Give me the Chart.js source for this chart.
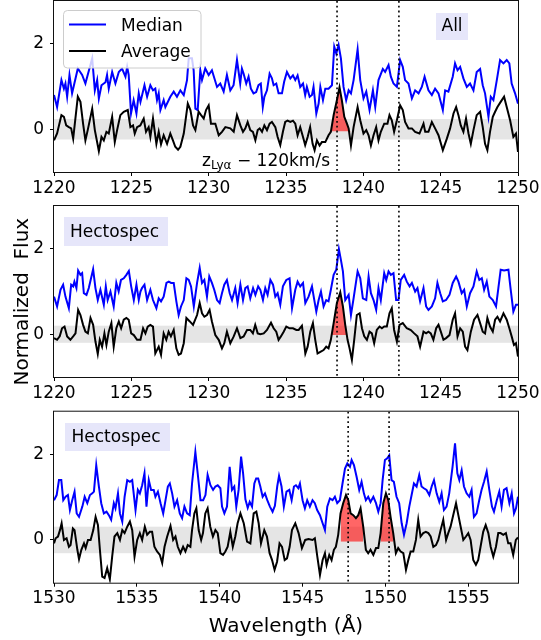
<!DOCTYPE html>
<html><head><meta charset="utf-8">
<script src="https://cdn.jsdelivr.net/npm/chart.js@4.4.1/dist/chart.umd.min.js"></script>
<style>
html,body{margin:0;padding:0;background:#fff;}
body{width:541px;height:640px;position:relative;overflow:hidden;}
canvas{position:absolute;left:0;}
</style>
</head><body>
<canvas id="c1" width="541" height="205" style="top:0px;width:541px;height:205px"></canvas>
<canvas id="c2" width="541" height="210" style="top:200px;width:541px;height:210px"></canvas>
<canvas id="c3" width="541" height="235" style="top:405px;width:541px;height:235px"></canvas>
<script>
// ---------- tick labels ----------
const yTicks = [0, 2];
const xTicksLya = [1220, 1225, 1230, 1235, 1240, 1245, 1250];
const xTicksCIV = [1530, 1535, 1540, 1545, 1550, 1555];

// ---------- line markers (dotted) ----------
const vLinesLya = [1238.3, 1242.3];
const vLinesCIV = [1547.75, 1550.22];

// ---------- emission regions shaded red ----------
const fillLyaAll = [[1237.75, 1239.2]];
const fillLyaHecto = [[1237.9, 1239.11]];
const fillCIV = [[1547.29, 1548.66], [1549.71, 1550.47]];

// ---------- noise bands (+/-) ----------
const bandAll = 0.24, bandHecto = 0.2, bandCIV = 0.31;

// ---------- Panel 1 (All): [wavelength, flux] ----------
const median1 = [[1220.0,.80],[1220.2,.52],[1220.48,1.15],[1220.64,.95],[1220.74,1.07],[1220.85,.76],[1221.0,1.27],[1221.17,.84],[1221.54,1.42],[1221.82,1.27],[1222.03,1.07],[1222.47,1.66],[1222.64,.91],[1222.79,1.15],[1222.9,.72],[1223.07,1.03],[1223.33,1.10],[1223.43,1.27],[1223.54,.95],[1223.76,1.34],[1223.97,1.07],[1224.19,1.34],[1224.4,1.42],[1224.62,1.23],[1224.73,1.46],[1224.83,1.27],[1224.98,.37],[1225.15,.68],[1225.33,.37],[1225.48,.84],[1225.59,.64],[1225.85,1.03],[1226.02,.76],[1226.23,1.03],[1226.4,.91],[1226.55,.95],[1226.66,.68],[1226.77,.84],[1226.88,.45],[1227.09,.68],[1227.2,.52],[1227.52,.76],[1227.74,.88],[1227.95,.76],[1228.17,.91],[1228.39,.80],[1228.6,1.15],[1228.71,1.66],[1228.92,1.66],[1229.03,1.38],[1229.14,.48],[1229.29,.45],[1229.46,1.38],[1229.57,1.15],[1229.78,1.42],[1230.0,1.27],[1230.21,1.38],[1230.54,.99],[1230.75,1.07],[1230.97,.88],[1231.18,1.27],[1231.4,.91],[1231.61,1.03],[1231.83,1.62],[1232.04,1.07],[1232.15,1.42],[1232.26,1.30],[1232.43,1.07],[1232.58,1.23],[1232.73,.95],[1232.9,.84],[1233.07,.87],[1233.22,1.03],[1233.37,1.07],[1233.5,.52],[1233.6,.76],[1233.77,.91],[1233.94,1.30],[1234.09,1.19],[1234.2,1.03],[1234.37,1.07],[1234.52,.84],[1234.74,.84],[1234.88,1.11],[1235.06,1.34],[1235.28,1.19],[1235.45,1.26],[1235.6,1.15],[1235.75,1.26],[1235.92,.99],[1236.1,1.07],[1236.24,.80],[1236.35,.99],[1236.53,.76],[1236.68,.80],[1236.78,.99],[1236.96,.37],[1237.11,.60],[1237.22,.99],[1237.39,.68],[1237.54,.95],[1237.75,.95],[1237.97,1.03],[1238.12,1.93],[1238.25,1.77],[1238.4,1.97],[1238.55,1.66],[1238.72,.99],[1238.89,.68],[1239.05,.91],[1239.2,.84],[1239.37,1.15],[1239.63,1.87],[1239.8,1.15],[1240.01,.72],[1240.19,.88],[1240.4,.45],[1240.62,.91],[1240.77,.52],[1240.98,1.15],[1241.26,1.41],[1241.41,1.34],[1241.63,1.5],[1241.78,1.23],[1241.95,1.07],[1242.17,.99],[1242.38,1.62],[1242.55,1.46],[1242.7,1.15],[1242.92,1.07],[1243.14,.72],[1243.35,.91],[1243.57,.84],[1243.78,.99],[1243.96,1.23],[1244.21,.91],[1244.43,.80],[1244.64,.95],[1244.86,.84],[1245.14,.45],[1245.29,.91],[1245.5,.88],[1245.78,1.23],[1245.93,1.54],[1246.09,1.38],[1246.26,1.46],[1246.47,1.19],[1246.69,.99],[1246.9,1.07],[1247.12,.91],[1247.33,1.34],[1247.55,1.41],[1247.72,1.03],[1247.87,.84],[1248.09,.29],[1248.24,.76],[1248.41,.68],[1248.63,1.15],[1248.84,1.62],[1249.06,1.54],[1249.27,1.62],[1249.44,1.54],[1249.59,1.07],[1249.81,.84],[1250.0,.60]];

const average1 = [[1220.0,-.26],[1220.2,-.10],[1220.48,.33],[1220.64,.29],[1220.79,.09],[1220.96,.05],[1221.11,.02],[1221.24,-.22],[1221.54,.76],[1221.71,.64],[1221.88,.13],[1222.03,-.26],[1222.18,-.02],[1222.47,.48],[1222.64,-.02],[1222.9,-.51],[1223.07,-.18],[1223.22,-.26],[1223.39,-.06],[1223.54,-.10],[1223.76,.29],[1223.93,-.30],[1224.08,-.02],[1224.29,.33],[1224.51,.41],[1224.77,.45],[1224.94,.05],[1225.11,.09],[1225.22,-.10],[1225.37,.05],[1225.58,.09],[1225.8,.25],[1225.95,-.06],[1226.12,.05],[1226.23,-.18],[1226.4,.25],[1226.62,-.34],[1226.77,-.06],[1226.92,-.35],[1227.09,-.14],[1227.31,-.34],[1227.52,-.10],[1227.69,-.26],[1227.84,-.41],[1228.02,-.48],[1228.17,-.41],[1228.39,-.10],[1228.65,.60],[1228.82,.45],[1228.99,.09],[1229.14,-.02],[1229.35,.41],[1229.51,.33],[1229.68,.25],[1229.83,.45],[1230.0,.56],[1230.15,.13],[1230.43,.13],[1230.65,-.14],[1230.86,-.06],[1231.08,.05],[1231.4,.02],[1231.62,-.06],[1231.83,.33],[1232.05,.09],[1232.22,-.06],[1232.37,.02],[1232.52,.17],[1232.69,-.02],[1232.86,-.06],[1233.02,-.26],[1233.17,-.02],[1233.3,.02],[1233.45,-.06],[1233.6,.09],[1233.77,-.02],[1233.94,.13],[1234.09,.17],[1234.31,.05],[1234.46,-.18],[1234.63,-.37],[1234.8,-.06],[1234.95,.17],[1235.1,.20],[1235.28,.17],[1235.45,.20],[1235.6,.13],[1235.75,-.14],[1235.92,.05],[1236.1,-.18],[1236.24,-.37],[1236.4,-.18],[1236.56,.05],[1236.72,-.34],[1236.85,-.49],[1237.0,-.26],[1237.17,-.38],[1237.32,-.30],[1237.54,-.30],[1237.75,-.14],[1237.9,-.06],[1238.08,.33],[1238.29,.68],[1238.46,.98],[1238.61,.68],[1238.77,.29],[1238.94,.13],[1239.05,.02],[1239.2,-.38],[1239.37,.05],[1239.63,.52],[1239.8,.21],[1240.01,-.10],[1240.19,-.02],[1240.34,-.14],[1240.49,-.38],[1240.66,-.14],[1240.83,.05],[1240.98,-.26],[1241.13,-.06],[1241.35,.13],[1241.56,.13],[1241.69,.33],[1241.84,.21],[1241.99,-.06],[1242.17,.21],[1242.38,.56],[1242.55,.45],[1242.7,.17],[1242.92,.02],[1243.14,.02],[1243.35,-.06],[1243.63,-.10],[1243.89,.13],[1244.0,-.06],[1244.21,-.06],[1244.43,.17],[1244.64,.02],[1244.86,-.14],[1245.14,-.49],[1245.4,-.22],[1245.61,.02],[1245.83,.37],[1246.0,.52],[1246.15,.33],[1246.3,.09],[1246.47,-.06],[1246.64,.25],[1246.8,-.10],[1246.95,-.34],[1247.12,-.02],[1247.33,.33],[1247.55,.41],[1247.72,.05],[1247.87,-.34],[1248.02,-.49],[1248.19,-.06],[1248.37,.29],[1248.52,.41],[1248.67,.52],[1248.88,.64],[1249.1,.76],[1249.27,.52],[1249.49,.21],[1249.7,-.18],[1249.87,-.10],[1250.0,-.53]];

// ---------- Panel 2 (Hectospec, Lya) ----------
const median2 = [[1220.0,.88],[1220.2,.65],[1220.42,1.04],[1220.59,1.16],[1220.74,.88],[1220.96,.61],[1221.11,1.16],[1221.24,1.12],[1221.32,1.23],[1221.45,1.08],[1221.56,1.49],[1221.71,1.39],[1221.82,1.43],[1221.93,.96],[1222.1,.92],[1222.25,1.08],[1222.53,1.52],[1222.68,1.08],[1222.83,.80],[1223.0,1.04],[1223.22,.69],[1223.35,1.12],[1223.47,.80],[1223.65,1.0],[1223.86,.65],[1224.03,1.20],[1224.18,1.0],[1224.33,1.27],[1224.51,1.31],[1224.68,1.39],[1224.84,1.48],[1224.99,1.12],[1225.16,.80],[1225.33,1.16],[1225.48,.80],[1225.59,1.0],[1225.69,1.08],[1225.85,1.16],[1226.02,.80],[1226.23,1.04],[1226.4,.80],[1226.62,.61],[1226.77,.84],[1226.92,.77],[1227.09,.88],[1227.27,1.20],[1227.42,1.23],[1227.57,1.20],[1227.74,1.20],[1227.91,.77],[1228.06,.45],[1228.21,.65],[1228.39,.80],[1228.56,1.31],[1228.71,1.27],[1228.86,1.12],[1229.04,.65],[1229.25,1.20],[1229.42,1.55],[1229.57,1.20],[1229.72,1.27],[1229.89,.88],[1230.04,1.35],[1230.21,1.20],[1230.36,1.04],[1230.54,.80],[1230.71,.73],[1230.86,.96],[1231.01,1.16],[1231.18,1.27],[1231.36,.96],[1231.51,.80],[1231.72,1.08],[1231.87,.73],[1232.05,1.16],[1232.22,.80],[1232.37,1.08],[1232.52,1.12],[1232.69,.84],[1232.87,1.08],[1233.02,.92],[1233.2,1.12],[1233.34,1.04],[1233.51,.80],[1233.66,1.08],[1233.81,.92],[1233.99,1.27],[1234.16,1.16],[1234.31,.88],[1234.46,.96],[1234.63,.69],[1234.8,1.12],[1235.02,1.27],[1235.23,1.31],[1235.39,.61],[1235.6,1.04],[1235.75,1.23],[1235.92,1.12],[1236.1,1.20],[1236.25,.73],[1236.46,.88],[1236.68,1.12],[1236.83,.80],[1236.96,.53],[1237.11,.80],[1237.26,1.0],[1237.43,.65],[1237.6,.80],[1237.75,.77],[1237.9,1.04],[1238.08,1.39],[1238.25,1.51],[1238.42,1.99],[1238.55,1.74],[1238.68,1.47],[1238.83,.80],[1239.05,.92],[1239.2,.45],[1239.37,.84],[1239.63,1.47],[1239.8,1.31],[1239.97,.84],[1240.19,.80],[1240.34,1.35],[1240.49,.96],[1240.66,.80],[1240.83,.57],[1240.98,1.08],[1241.13,.80],[1241.35,1.43],[1241.48,1.27],[1241.63,1.47],[1241.78,1.39],[1241.95,1.43],[1242.12,.80],[1242.27,.80],[1242.42,1.27],[1242.64,1.39],[1242.81,1.23],[1242.99,1.12],[1243.14,1.20],[1243.35,1.0],[1243.5,1.08],[1243.67,.77],[1243.89,1.08],[1244.06,.65],[1244.21,.57],[1244.43,.65],[1244.64,.84],[1244.79,1.20],[1244.97,.96],[1245.14,.77],[1245.35,.80],[1245.57,.92],[1245.78,1.20],[1246.0,1.35],[1246.15,1.23],[1246.36,.96],[1246.52,1.04],[1246.69,.65],[1246.9,.96],[1247.12,1.12],[1247.33,1.47],[1247.5,1.27],[1247.66,1.31],[1247.81,1.04],[1247.98,1.23],[1248.15,.88],[1248.37,.80],[1248.58,.65],[1248.73,1.08],[1248.88,1.51],[1249.1,1.49],[1249.38,1.51],[1249.53,1.04],[1249.7,.53],[1249.87,.69],[1250.0,.69]];

const average2 = [[1220.0,-.09],[1220.2,-.13],[1220.37,-.05],[1220.52,.14],[1220.68,.18],[1220.85,-.05],[1221.06,-.13],[1221.24,-.05],[1221.39,.02],[1221.56,.57],[1221.71,.45],[1221.88,.22],[1222.03,.06],[1222.19,.02],[1222.36,.38],[1222.53,.22],[1222.68,-.17],[1222.83,-.46],[1222.96,-.13],[1223.11,-.29],[1223.26,.02],[1223.39,-.25],[1223.54,.06],[1223.71,.26],[1223.86,-.29],[1224.03,.14],[1224.19,.30],[1224.34,.14],[1224.51,.34],[1224.68,.38],[1224.83,.34],[1224.99,.02],[1225.16,-.02],[1225.37,-.13],[1225.59,-.13],[1225.76,.14],[1225.91,.02],[1226.06,.18],[1226.23,.22],[1226.4,.18],[1226.55,-.45],[1226.77,-.29],[1226.92,-.48],[1227.09,.02],[1227.26,-.13],[1227.41,.06],[1227.56,-.05],[1227.74,.10],[1227.91,-.33],[1228.06,-.48],[1228.21,-.45],[1228.39,-.21],[1228.56,.38],[1228.78,.30],[1228.99,.22],[1229.25,.45],[1229.42,.73],[1229.57,.49],[1229.72,.41],[1229.89,.45],[1230.06,.57],[1230.21,.30],[1230.43,-.02],[1230.65,-.13],[1230.86,-.33],[1231.01,-.21],[1231.18,.06],[1231.4,-.21],[1231.62,-.05],[1231.83,.14],[1232.05,-.09],[1232.26,-.05],[1232.48,.10],[1232.69,.10],[1232.86,.02],[1233.01,.22],[1233.17,.02],[1233.34,0],[1233.56,.02],[1233.77,.10],[1234.03,.27],[1234.2,.14],[1234.37,.06],[1234.52,-.13],[1234.67,-.05],[1234.85,.06],[1235.02,.18],[1235.23,.14],[1235.45,.14],[1235.67,.10],[1235.82,.10],[1236.03,.20],[1236.25,-.45],[1236.4,-.29],[1236.57,.06],[1236.74,.26],[1236.89,-.13],[1237.04,-.45],[1237.22,-.41],[1237.43,-.37],[1237.6,-.29],[1237.75,-.33],[1237.9,-.13],[1238.08,.26],[1238.29,.73],[1238.51,.98],[1238.68,.65],[1238.83,.22],[1238.98,-.13],[1239.11,-.33],[1239.26,-.60],[1239.41,-.13],[1239.58,.45],[1239.76,.49],[1239.91,.14],[1240.06,-.05],[1240.23,-.13],[1240.4,.06],[1240.55,.02],[1240.7,-.21],[1240.87,.10],[1241.05,.18],[1241.2,.14],[1241.35,.18],[1241.52,.18],[1241.69,.49],[1241.84,.61],[1241.99,.10],[1242.17,-.17],[1242.34,.22],[1242.55,.26],[1242.81,.14],[1243.07,.10],[1243.29,.02],[1243.5,-.05],[1243.67,-.29],[1243.89,.06],[1244.06,.02],[1244.21,.06],[1244.36,.02],[1244.53,-.13],[1244.71,.14],[1244.86,.22],[1245.01,.06],[1245.18,-.13],[1245.35,-.09],[1245.57,-.02],[1245.78,.34],[1245.93,.49],[1246.09,-.05],[1246.26,.14],[1246.43,.06],[1246.58,-.29],[1246.73,-.37],[1246.95,.06],[1247.16,.34],[1247.38,.45],[1247.55,.26],[1247.72,.06],[1247.87,.02],[1248.02,.38],[1248.19,.18],[1248.37,.06],[1248.52,.34],[1248.67,.41],[1248.84,.30],[1249.06,.49],[1249.27,.34],[1249.44,.14],[1249.59,-.05],[1249.74,-.25],[1249.87,-.21],[1250.0,-.52]];

// ---------- Panel 3 (Hectospec, CIV) ----------
const median3 = [[1530.0,.93],[1530.16,1.05],[1530.3,1.40],[1530.44,1.40],[1530.56,.93],[1530.7,1.01],[1530.84,1.05],[1530.96,.70],[1531.1,.93],[1531.24,1.13],[1531.37,.62],[1531.51,.54],[1531.71,.78],[1531.85,1.01],[1532.01,.86],[1532.17,1.05],[1532.31,1.09],[1532.41,1.13],[1532.55,1.75],[1532.71,1.25],[1532.85,.86],[1533.01,.62],[1533.17,.66],[1533.31,.58],[1533.45,.47],[1533.61,.86],[1533.71,.74],[1533.86,1.09],[1533.98,.62],[1534.12,.43],[1534.26,1.01],[1534.42,1.40],[1534.58,1.36],[1534.72,1.40],[1534.92,.70],[1535.06,1.17],[1535.18,1.09],[1535.32,1.28],[1535.46,1.56],[1535.58,.78],[1535.72,1.40],[1535.86,1.17],[1536.02,1.17],[1536.12,1.01],[1536.27,1.13],[1536.43,.86],[1536.59,.62],[1536.73,.93],[1536.87,1.25],[1536.99,1.32],[1537.13,1.09],[1537.27,.78],[1537.43,.93],[1537.59,.62],[1537.73,.51],[1537.87,.78],[1538.03,.62],[1538.19,.58],[1538.33,1.32],[1538.53,2.06],[1538.67,1.56],[1538.84,.93],[1539.0,.93],[1539.14,1.05],[1539.27,1.52],[1539.44,1.28],[1539.6,1.17],[1539.74,1.25],[1539.88,1.28],[1540.04,1.21],[1540.14,.78],[1540.28,.62],[1540.44,.78],[1540.6,1.71],[1540.74,1.17],[1540.88,1.25],[1541.0,.78],[1541.14,1.17],[1541.29,1.95],[1541.41,1.56],[1541.55,.95],[1541.69,.75],[1541.81,.89],[1541.95,.78],[1542.09,1.32],[1542.2,1.44],[1542.32,1.44],[1542.45,1.25],[1542.59,1.01],[1542.73,1.09],[1542.87,.93],[1543.03,.78],[1543.19,.66],[1543.33,.80],[1543.47,1.25],[1543.58,1.50],[1543.73,1.25],[1543.87,.78],[1544.03,1.13],[1544.2,1.17],[1544.34,.93],[1544.48,1.25],[1544.6,1.28],[1544.74,1.21],[1544.84,1.32],[1545.0,.93],[1545.14,.74],[1545.28,.93],[1545.44,.78],[1545.6,.93],[1545.74,.86],[1545.88,.70],[1546.05,.58],[1546.21,.39],[1546.35,.23],[1546.49,.78],[1546.65,.97],[1546.81,.93],[1546.95,1.01],[1547.09,.86],[1547.25,.93],[1547.41,1.32],[1547.56,1.67],[1547.7,1.79],[1547.86,1.71],[1547.96,1.87],[1548.1,1.75],[1548.26,1.48],[1548.42,1.17],[1548.56,1.36],[1548.7,1.09],[1548.82,.93],[1548.96,1.01],[1549.1,.89],[1549.27,1.01],[1549.43,.86],[1549.57,.66],[1549.71,.86],[1549.83,1.40],[1549.97,1.87],[1550.11,1.91],[1550.23,1.98],[1550.37,1.40],[1550.51,1.36],[1550.67,1.01],[1550.83,.86],[1550.98,.39],[1551.12,.12],[1551.28,.39],[1551.44,.78],[1551.58,1.05],[1551.72,1.32],[1551.88,1.25],[1552.04,1.52],[1552.18,1.25],[1552.32,1.21],[1552.48,1.17],[1552.65,1.05],[1552.79,1.25],[1552.93,1.40],[1553.09,1.09],[1553.25,.89],[1553.39,1.09],[1553.53,.70],[1553.69,.78],[1553.85,1.09],[1554.05,1.71],[1554.2,2.26],[1554.34,1.56],[1554.46,1.40],[1554.6,1.63],[1554.74,1.25],[1554.9,1.09],[1555.06,1.01],[1555.2,1.17],[1555.34,.54],[1555.5,.62],[1555.66,.93],[1555.8,1.17],[1555.95,1.36],[1556.11,1.60],[1556.27,1.17],[1556.43,.78],[1556.55,.66],[1556.72,.93],[1556.87,1.13],[1557.01,.78],[1557.15,1.17],[1557.31,1.21],[1557.48,.86],[1557.62,1.09],[1557.76,.62],[1557.88,.74],[1558.0,1.01]];

const average3 = [[1530.0,-.08],[1530.1,.04],[1530.24,.08],[1530.36,.23],[1530.46,.39],[1530.6,0],[1530.76,.04],[1530.9,-.16],[1531.0,-.12],[1531.14,.27],[1531.24,.23],[1531.41,-.23],[1531.51,-.45],[1531.65,-.23],[1531.81,-.08],[1531.91,-.19],[1532.05,0],[1532.21,0],[1532.37,.23],[1532.51,.54],[1532.65,.35],[1532.77,-.23],[1532.91,-.86],[1533.05,-.89],[1533.21,-.66],[1533.37,-.92],[1533.51,-.39],[1533.65,.08],[1533.82,.16],[1533.98,0],[1534.12,.23],[1534.26,.16],[1534.42,.31],[1534.58,.43],[1534.72,.23],[1534.86,-.39],[1535.02,0],[1535.18,.16],[1535.32,0],[1535.48,.31],[1535.62,.12],[1535.78,.19],[1535.92,.19],[1536.06,-.16],[1536.22,-.27],[1536.39,-.35],[1536.53,-.54],[1536.67,-.16],[1536.83,.08],[1537.03,.33],[1537.19,0],[1537.33,.08],[1537.47,-.16],[1537.63,-.31],[1537.79,-.16],[1537.93,-.27],[1538.07,-.12],[1538.23,-.16],[1538.33,.23],[1538.47,.62],[1538.59,.74],[1538.73,.23],[1538.88,0],[1538.99,.16],[1539.13,.62],[1539.27,.74],[1539.43,.31],[1539.59,.08],[1539.74,.23],[1539.88,.16],[1540.04,-.31],[1540.2,-.35],[1540.34,-.27],[1540.48,-.16],[1540.64,.19],[1540.79,-.16],[1540.94,.08],[1541.08,.39],[1541.25,.62],[1541.45,.39],[1541.65,-.04],[1541.85,-.08],[1542.05,.62],[1542.21,.66],[1542.35,.39],[1542.49,-.08],[1542.69,.23],[1542.85,.08],[1543.01,-.31],[1543.16,-.47],[1543.31,-.70],[1543.46,-.51],[1543.61,-.08],[1543.76,-.16],[1543.92,-.47],[1544.06,-.43],[1544.22,-.16],[1544.36,.23],[1544.56,.39],[1544.76,.16],[1544.96,-.19],[1545.16,0],[1545.36,.02],[1545.6,0],[1545.74,.04],[1545.89,-.39],[1546.05,-.82],[1546.21,-.47],[1546.35,-.31],[1546.45,-.58],[1546.61,-.35],[1546.75,-.47],[1546.89,-.23],[1547.01,-.16],[1547.15,.12],[1547.29,.62],[1547.45,.86],[1547.62,1.05],[1547.76,.93],[1547.9,.62],[1548.06,.58],[1548.22,.51],[1548.36,.58],[1548.5,.74],[1548.66,.31],[1548.82,-.23],[1548.96,-.31],[1549.1,-.23],[1549.27,-.35],[1549.43,-.19],[1549.57,-.19],[1549.71,.16],[1549.87,.86],[1550.03,1.09],[1550.17,.93],[1550.31,.54],[1550.47,.16],[1550.63,-.31],[1550.77,-.19],[1550.92,-.27],[1551.08,-.31],[1551.24,-.70],[1551.38,-.47],[1551.52,-.27],[1551.68,-.27],[1551.84,0],[1551.98,.47],[1552.12,.08],[1552.28,.16],[1552.44,.19],[1552.59,.16],[1552.73,.08],[1552.89,-.16],[1553.05,-.12],[1553.19,0],[1553.33,.23],[1553.49,.47],[1553.66,0],[1553.79,.16],[1553.93,.31],[1554.09,.58],[1554.26,.86],[1554.4,.58],[1554.54,.31],[1554.7,0],[1554.86,.08],[1555.0,.16],[1555.14,0],[1555.3,-.47],[1555.46,-.58],[1555.6,-.47],[1555.74,-.16],[1555.9,.19],[1556.05,.35],[1556.21,.16],[1556.35,-.16],[1556.51,-.39],[1556.67,-.16],[1556.81,.16],[1556.95,.16],[1557.11,.12],[1557.27,.16],[1557.41,-.08],[1557.55,-.08],[1557.71,-.35],[1557.87,0],[1558.0,.06]];

// ---------- rendering ----------
const FONT = '"DejaVu Sans", Verdana, sans-serif';
const toXY = arr => arr.map(p => ({x: p[0], y: p[1]}));

function boxLabel(ctx, text, x, y, w, h, tx, ty) {
  ctx.save();
  ctx.fillStyle = '#e6e6fa';
  ctx.fillRect(x, y, w, h);
  ctx.fillStyle = '#000';
  ctx.font = '17px ' + FONT;
  ctx.textAlign = 'left';
  ctx.textBaseline = 'alphabetic';
  ctx.fillText(text, tx, ty);
  ctx.restore();
}

function makePanel(id, cfg) {
  const deco = {
    id: 'deco_' + id,
    beforeDatasetsDraw(chart) {
      const {ctx, chartArea: a, scales} = chart;
      const y = scales.y;
      const y1 = y.getPixelForValue(cfg.band), y2 = y.getPixelForValue(-cfg.band);
      ctx.save();
      ctx.fillStyle = '#e5e5e5';
      ctx.fillRect(a.left, y1, a.right - a.left, y2 - y1);
      ctx.restore();
    },
    afterDatasetsDraw(chart) {
      const {ctx, chartArea: a, scales} = chart;
      ctx.save();
      ctx.strokeStyle = '#000';
      ctx.lineWidth = 1.6;
      ctx.setLineDash([1.8, 3]);
      cfg.vlines.forEach(w => {
        const px = scales.x.getPixelForValue(w);
        ctx.beginPath();
        ctx.moveTo(px, a.top);
        ctx.lineTo(px, a.bottom);
        ctx.stroke();
      });
      ctx.restore();
    },
    afterDraw(chart) {
      const {ctx, chartArea: a} = chart;
      ctx.save();
      ctx.strokeStyle = '#111';
      ctx.lineWidth = 1;
      ctx.strokeRect(a.left - 0.5, a.top - 0.5, a.right - a.left + 1, a.bottom - a.top + 1);
      ctx.restore();
      if (cfg.extra) cfg.extra(ctx, chart);
    }
  };

  const datasets = [
    {data: toXY(cfg.avg), borderColor: '#000000', borderWidth: 2, pointRadius: 0, fill: false, tension: 0},
    {data: toXY(cfg.med), borderColor: '#0000ff', borderWidth: 2, pointRadius: 0, fill: false, tension: 0}
  ];
  cfg.fills.forEach(r => {
    datasets.push({
      data: toXY(cfg.avg.filter(p => p[0] >= r[0] && p[0] <= r[1])),
      borderColor: 'rgba(0,0,0,0)', borderWidth: 0, pointRadius: 0, tension: 0,
      backgroundColor: 'rgba(255,0,0,0.6)',
      fill: {target: {value: cfg.base}, above: 'rgba(255,0,0,0.6)', below: 'rgba(0,0,0,0)'}
    });
  });

  const tickFont = {family: FONT, size: 17};
  new Chart(document.getElementById(id), {
    type: 'line',
    data: {datasets},
    options: {
      responsive: false, animation: false, devicePixelRatio: 1,
      layout: {padding: {top: cfg.padTop, right: 23, bottom: 0, left: 0}},
      plugins: {legend: {display: false}, tooltip: {enabled: false}},
      scales: {
        x: {
          type: 'linear', min: cfg.xmin, max: cfg.xmax,
          afterBuildTicks: s => { s.ticks = cfg.xticks.map(v => ({value: v})); },
          afterFit: s => { s.height = cfg.xh; s.paddingLeft = 0; s.paddingRight = 0; },
          grid: {drawOnChartArea: false, drawTicks: true, tickLength: 4, color: '#000', lineWidth: 1},
          border: {display: false},
          ticks: {font: tickFont, color: '#000', padding: 2, maxRotation: 0, autoSkip: false, callback: v => String(v)}
        },
        y: {
          type: 'linear', min: -1, max: 3,
          afterBuildTicks: s => { s.ticks = yTicks.map(v => ({value: v})); },
          afterFit: s => { s.width = 54; s.paddingTop = 0; s.paddingBottom = 0; },
          grid: {drawOnChartArea: false, drawTicks: true, tickLength: 4, color: '#000', lineWidth: 1},
          border: {display: false},
          ticks: {font: tickFont, color: '#000', padding: 6, callback: v => String(v)}
        }
      }
    },
    plugins: [deco]
  });
}

makePanel('c1', {
  med: median1, avg: average1, band: bandAll, vlines: vLinesLya, fills: fillLyaAll, base: -0.05,
  xmin: 1220, xmax: 1250, xticks: xTicksLya, padTop: 1, xh: 33,
  extra(ctx) {
    // legend
    ctx.save();
    ctx.fillStyle = 'rgba(255,255,255,0.8)';
    ctx.strokeStyle = '#cccccc';
    ctx.lineWidth = 1;
    ctx.beginPath();
    ctx.roundRect(63.5, 10.5, 137.5, 57.5, 4);
    ctx.fill(); ctx.stroke();
    ctx.lineWidth = 2;
    ctx.strokeStyle = '#0000ff';
    ctx.beginPath(); ctx.moveTo(69, 24.5); ctx.lineTo(106, 24.5); ctx.stroke();
    ctx.strokeStyle = '#000';
    ctx.beginPath(); ctx.moveTo(69, 51); ctx.lineTo(106, 51); ctx.stroke();
    ctx.fillStyle = '#000';
    ctx.font = '17px ' + FONT;
    ctx.textBaseline = 'alphabetic';
    ctx.fillText('Median', 121, 30.7);
    ctx.fillText('Average', 121, 56.7);
    // annotation z_Lya - 120 km/s
    let x0 = 202;
    ctx.fillText('z', x0, 165.5);
    x0 += ctx.measureText('z').width;
    ctx.font = '12px ' + FONT;
    ctx.fillText('Lyα', x0, 169);
    x0 += ctx.measureText('Lyα').width;
    ctx.font = '17px ' + FONT;
    ctx.fillText(' \u2212 120km/s', x0, 165.5);
    ctx.restore();
    boxLabel(ctx, 'All', 436, 13, 32, 27, 441.5, 31);
  }
});

makePanel('c2', {
  med: median2, avg: average2, band: bandHecto, vlines: vLinesLya, fills: fillLyaHecto, base: -0.02,
  xmin: 1220, xmax: 1250, xticks: xTicksLya, padTop: 6, xh: 33,
  extra(ctx) {
    boxLabel(ctx, 'Hectospec', 64, 17, 104, 29, 70, 36.7);
    ctx.save();
    ctx.fillStyle = '#000';
    ctx.font = '20px ' + FONT;
    ctx.translate(27.5, 101.7);
    ctx.rotate(-Math.PI / 2);
    ctx.textAlign = 'center';
    ctx.textBaseline = 'alphabetic';
    ctx.fillText('Normalized  Flux', 0, 0);
    ctx.restore();
  }
});

makePanel('c3', {
  med: median3, avg: average3, band: bandCIV, vlines: vLinesCIV, fills: fillCIV, base: -0.04,
  xmin: 1530, xmax: 1558, xticks: xTicksCIV, padTop: 6.7, xh: 57.3,
  extra(ctx) {
    boxLabel(ctx, 'Hectospec', 65, 18, 105, 28, 71.5, 36.7);
    ctx.save();
    ctx.fillStyle = '#000';
    ctx.font = '20px ' + FONT;
    ctx.textAlign = 'center';
    ctx.textBaseline = 'alphabetic';
    ctx.fillText('Wavelength (Å)', 286, 226.7);
    ctx.restore();
  }
});
</script>
</body></html>
